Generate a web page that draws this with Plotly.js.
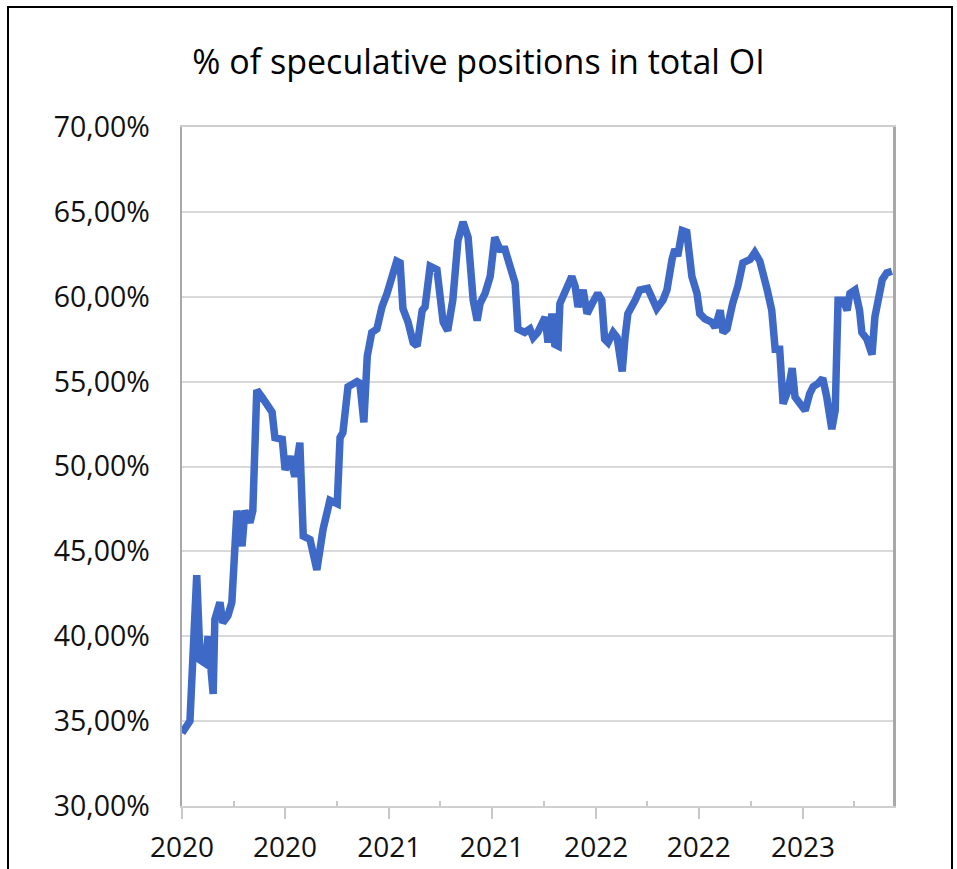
<!DOCTYPE html>
<html>
<head>
<meta charset="utf-8">
<script src="https://cdn.plot.ly/plotly-3.0.1.min.js"></script>
<style>
  html, body { margin: 0; padding: 0; background: #ffffff; overflow: hidden; }
  #chart { position: absolute; left: 0; top: 0; width: 957px; height: 869px; }
  #frame { position: absolute; left: 7px; top: 6px; width: 942px; height: 900px;
           border: 2px solid #000; pointer-events: none; }
</style>
</head>
<body>
<div id="chart"></div>
<div id="frame"></div>
<script>
// days since 2020-01-01
const dayOffsets = [
  0, 14, 26, 32, 41, 46, 55, 58, 67, 72, 81, 88, 97, 106, 111, 120, 125, 132, 141, 150,
  159, 164, 177, 182, 191, 199, 208, 214, 226, 238, 249, 261, 274, 279, 284, 293, 309, 314, 321, 327,
  335, 344, 353, 362, 371, 379, 385, 390, 399, 408, 415, 424, 429, 438, 450, 461, 469, 478, 487, 496,
  505, 514, 521, 526, 535, 544, 552, 561, 570, 579, 588, 593, 605, 614, 620, 628, 641, 646, 653, 658,
  664, 667, 676, 688, 694, 699, 708, 715, 724, 734, 741, 746, 752, 761, 768, 777, 782, 787, 800, 808,
  822, 838, 849, 856, 865, 870, 875, 883, 891, 900, 909, 914, 923, 935, 941, 950, 955, 962, 972, 981,
  990, 1003, 1011, 1020, 1033, 1041, 1047, 1055, 1061, 1070, 1077, 1082, 1091, 1100, 1108, 1114, 1123, 1131, 1138, 1147,
  1153, 1158, 1167, 1174, 1179, 1188, 1196, 1200, 1209, 1218, 1223, 1228, 1236, 1244, 1253
];
// % of speculative positions in total open interest
const speculativeShare = [
  34.3, 35.0, 43.6, 38.6, 38.4, 40.0, 36.6, 41.0, 42.0, 40.8, 41.2, 42.0, 47.4, 45.3, 47.4, 46.7, 47.4, 54.5, 54.1, 53.7,
  53.2, 51.7, 51.6, 49.8, 50.6, 49.4, 51.4, 45.9, 45.7, 43.9, 46.3, 48.0, 47.8, 51.7, 52.0, 54.7, 55.0, 54.9, 52.6, 56.5,
  57.9, 58.1, 59.4, 60.2, 61.4, 62.1, 62.0, 59.3, 58.5, 57.3, 57.1, 59.2, 59.4, 61.8, 61.6, 58.5, 58.0, 59.8, 63.3, 64.4,
  63.5, 59.8, 58.6, 59.6, 60.2, 61.2, 63.5, 62.8, 62.8, 61.8, 60.8, 58.1, 57.9, 58.1, 57.6, 57.9, 58.8, 57.3, 59.0, 57.2,
  57.1, 59.6, 60.4, 61.2, 60.6, 59.4, 60.4, 59.0, 59.6, 60.2, 59.8, 57.5, 57.3, 57.9, 57.6, 55.6, 57.6, 59.0, 59.8, 60.4,
  60.5, 59.3, 59.8, 60.4, 62.2, 62.8, 62.4, 63.9, 63.8, 61.2, 60.2, 59.0, 58.7, 58.5, 58.2, 59.2, 57.9, 58.1, 59.6, 60.6,
  62.0, 62.2, 62.6, 62.1, 60.4, 59.2, 56.9, 56.9, 53.7, 54.5, 55.8, 54.1, 53.7, 53.3, 54.3, 54.7, 54.9, 55.2, 54.1, 52.2,
  53.3, 59.8, 59.8, 59.2, 60.2, 60.4, 59.2, 57.9, 57.5, 56.6, 58.8, 59.8, 61.0, 61.4, 61.5
];
const majorTickDays = [0, 182, 366, 547, 731, 912, 1096];
const majorTickLabels = ['2020', '2020', '2021', '2021', '2022', '2022', '2023'];
const minorTickDays = [91, 274, 456, 639, 821, 1004, 1186];
const yTicks = [30, 35, 40, 45, 50, 55, 60, 65, 70];
const yTickLabels = ['30,00%', '35,00%', '40,00%', '45,00%', '50,00%', '55,00%', '60,00%', '65,00%', '70,00%'];

const FONT = '"Open Sans", "DejaVu Sans", sans-serif';

const trace = {
  x: dayOffsets,
  y: speculativeShare,
  type: 'scatter',
  mode: 'lines',
  line: { color: '#3e69c7', width: 7.5, shape: 'linear' },
  hoverinfo: 'skip'
};

const layout = {
  width: 957,
  height: 869,
  margin: { l: 182, r: 64, t: 127, b: 63, pad: 0 },
  paper_bgcolor: '#ffffff',
  plot_bgcolor: '#ffffff',
  separators: ',.',
  showlegend: false,
  font: { family: FONT, color: '#111111' },
  title: {
    text: '% of speculative positions in total OI',
    font: { family: FONT, size: 34, color: '#000000' },
    x: 0.5, xref: 'container', xanchor: 'center',
    y: 1 - 62 / 869, yref: 'container', yanchor: 'middle'
  },
  xaxis: {
    type: 'linear',
    range: [0, 1255],
    tickmode: 'array',
    tickvals: majorTickDays,
    ticktext: majorTickLabels,
    ticks: 'outside',
    ticklen: 11,
    tickwidth: 2,
    tickcolor: '#c8c8c8',
    ticklabelstandoff: 4,
    tickfont: { family: FONT, size: 28, color: '#111111' },
    showgrid: false,
    zeroline: false,
    showline: true,
    linecolor: '#cfcfcf',
    linewidth: 2,
    mirror: true,
    minor: {
      tickmode: 'array',
      tickvals: minorTickDays,
      ticks: 'inside',
      ticklen: 5,
      tickwidth: 2,
      tickcolor: '#c8c8c8',
      showgrid: false
    }
  },
  yaxis: {
    range: [30, 70],
    tickmode: 'array',
    tickvals: yTicks,
    ticktext: yTickLabels,
    ticks: '',
    ticklabelstandoff: 24,
    tickfont: { family: FONT, size: 28.5, color: '#111111' },
    showgrid: true,
    gridcolor: '#d9d9d9',
    gridwidth: 2,
    zeroline: false,
    showline: true,
    linecolor: '#a8a8a8',
    linewidth: 2.5,
    mirror: true
  }
};

Plotly.newPlot('chart', [trace], layout, { staticPlot: true, displayModeBar: false });
</script>
</body>
</html>
